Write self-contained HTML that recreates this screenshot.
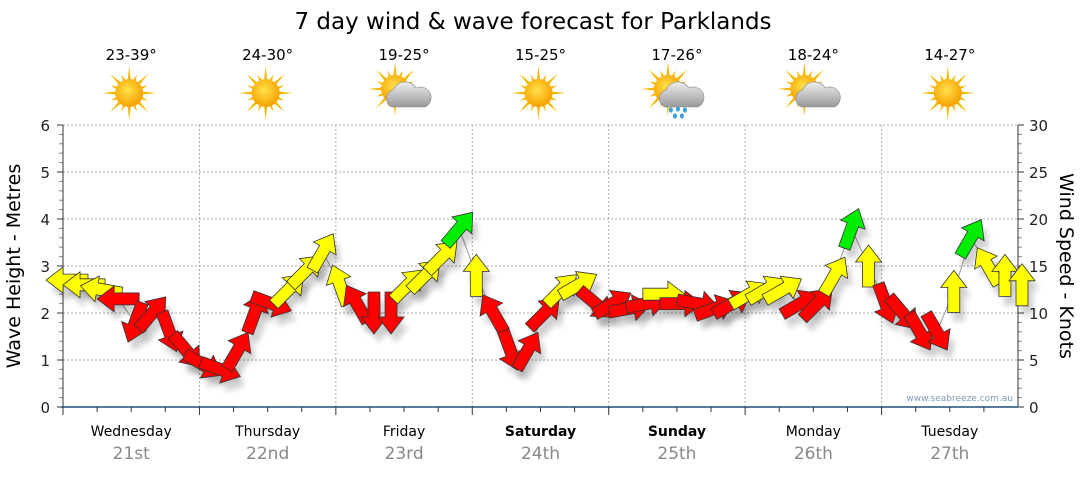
<!DOCTYPE html>
<html><head><meta charset="utf-8"><style>
body{margin:0;background:#fff;font-family:"DejaVu Sans","Liberation Sans",sans-serif;}
svg text{font-family:"DejaVu Sans","Liberation Sans",sans-serif;}
</style></head><body>
<svg id="chart" width="1080" height="475" viewBox="0 0 1080 475" xmlns="http://www.w3.org/2000/svg">
<defs>
<radialGradient id="sunG" cx="45%" cy="40%" r="60%"><stop offset="0" stop-color="#ffe14a"/><stop offset="1" stop-color="#f7a000"/></radialGradient>
<linearGradient id="cloudG" x1="0" y1="0" x2="0" y2="1"><stop offset="0" stop-color="#eee"/><stop offset="1" stop-color="#999"/></linearGradient>
<filter id="sh" x="-50%" y="-50%" width="200%" height="200%"><feGaussianBlur stdDeviation="3"/></filter>
</defs>
<text x="533" y="29" font-size="23" text-anchor="middle" fill="#000">7 day wind &amp; wave forecast for Parklands</text>
<g id="grid"></g>
<g id="icons"></g>
<g id="axes"></g>
<g id="marks"></g>
<text x="1013" y="401" font-size="9" text-anchor="end" fill="#7f9ab5">www.seabreeze.com.au</text>
<text transform="translate(20,266) rotate(-90)" font-size="19" text-anchor="middle" fill="#000">Wave Height - Metres</text>
<text transform="translate(1060,266) rotate(90)" font-size="19" text-anchor="middle" fill="#000">Wind Speed - Knots</text>
</svg>
<script>
const days=["Wednesday","Thursday","Friday","Saturday","Sunday","Monday","Tuesday"];
const dates=["21st","22nd","23rd","24th","25th","26th","27th"];
const temps=["23-39°","24-30°","19-25°","15-25°","17-26°","18-24°","14-27°"];
const weather=["sun","sun","cloud","sun","rain","cloud","sun"];
const waveTicks=[0,1,2,3,4,5,6];
const windTicks=[0,5,10,15,20,25,30];
// wind speed in knots every 3 hours
const windSpeed=[13.5,13,12.5,11.5,9,10,8,6, 4.5,4,6,10,11,12.5,14.5,16.5, 13,11,10,10,13,14,16,19, 14,10,6,6,10,12.5,13,11, 11,10.5,11,12,11,11,10.5,11, 12,12.5,12.5,11,11,14,19,15, 11,10,8,8,12.3,18,15,14,13];
// direction the arrow points (degrees clockwise from up)
const windDir=[270,270,280,270,200,40,160,140, 120,110,30,20,110,45,45,30, 340,330,180,180,45,45,45,40, 0,330,160,30,45,45,60,130, 60,80,80,90,90,100,70,60, 60,60,60,60,45,30,20,0, 160,140,150,150,0,30,330,0,0];

const NS="http://www.w3.org/2000/svg";
const X0=63,X1=1018,Y0=407,Y1=125;
const dayW=(X1-X0)/7;
const xT=i=>X0+i*(dayW/8)+4;
const yWave=v=>Y0-(v/6)*(Y0-Y1);
const yWind=v=>Y0-(v/30)*(Y0-Y1);
function mk(t,a,p){const e=document.createElementNS(NS,t);for(const k in a)e.setAttribute(k,a[k]);(p||document.getElementById('chart')).appendChild(e);return e;}
const grid=document.getElementById('grid'),axes=document.getElementById('axes'),marks=document.getElementById('marks'),icons=document.getElementById('icons');

waveTicks.forEach(v=>{
  if(v>0){const g=mk('line',{x1:X0,x2:X1,y1:yWave(v),y2:yWave(v),stroke:'#aaa','stroke-dasharray':'2,2'},grid);
  
  }
  const t=mk('text',{x:50,y:yWave(v)+6,'font-size':15,'text-anchor':'end',fill:'#222'},axes);t.textContent=v;
  
  
});
windTicks.forEach(v=>{
  const t=mk('text',{x:1029,y:yWind(v)+6,'font-size':15,fill:'#222'},axes);t.textContent=v;
  
  
});
for(let k=0;k<=30;k++){const y=yWind(k);const big=k%5==0;
  mk('line',{x1:X0-(big?6:4),x2:X0,y1:y,y2:y,stroke:big?'#333':'#888','stroke-width':1},axes);
  mk('line',{x1:X1,x2:X1+(big?6:4),y1:y,y2:y,stroke:big?'#333':'#888','stroke-width':1},axes);}
mk('line',{x1:X0,x2:X0,y1:Y1,y2:Y0,stroke:'#333'},axes);
mk('line',{x1:X1,x2:X1,y1:Y1,y2:Y0,stroke:'#333'},axes);
mk('line',{x1:X0-2,x2:X1,y1:Y0,y2:Y0,stroke:'#1f4e79','stroke-width':1.5},axes);
for(let d=0;d<7;d++){
  if(d>0){const g=mk('line',{x1:X0+d*dayW,x2:X0+d*dayW,y1:Y1,y2:Y0,stroke:'#aaa','stroke-dasharray':'2,2'},grid);
  
  }
  for(let q=0;q<4;q++){const x=X0+d*dayW+q*dayW/4;mk('line',{x1:x,x2:x,y1:Y0,y2:Y0+(q==0?8:5),stroke:'#333'},axes);}
  const cx=X0+(d+0.5)*dayW;
  const dl=mk('text',{x:cx,y:436,'font-size':14,'text-anchor':'middle',fill:'#000','font-weight':(d==3||d==4)?'bold':'normal'},axes);dl.textContent=days[d];
  
  
  const dt=mk('text',{x:cx,y:459,'font-size':17,'text-anchor':'middle',fill:'#888'},axes);dt.textContent=dates[d];
  
  
  const tt=mk('text',{x:cx,y:60,'font-size':15,'text-anchor':'middle',fill:'#000'},icons);tt.textContent=temps[d];
  
  
  const g=mk('g',{transform:`translate(${cx-2},93)`},icons);
  
  
  const sx=weather[d]=='sun'?0:-7, sy=weather[d]=='sun'?0:-4;
  for(let r=0;r<16;r++){const a=r*Math.PI/8,L=r%2?20:27;
    mk('polygon',{points:`${sx+Math.cos(a)*L},${sy+Math.sin(a)*L} ${sx+Math.cos(a+0.14)*12},${sy+Math.sin(a+0.14)*12} ${sx+Math.cos(a-0.14)*12},${sy+Math.sin(a-0.14)*12}`,fill:'#f5b800'},g);}
  mk('circle',{cx:sx,cy:sy,r:14,fill:'url(#sunG)'},g);
  if(weather[d]!='sun'){
    mk('path',{d:'M-10,14 a9,9 0 0 1 1,-17 a13,13 0 0 1 23,-2 a9,9 0 0 1 9,19 z',fill:'url(#cloudG)',stroke:'#888','stroke-width':0.6},g);
    if(weather[d]=='rain'){[[-4,17],[3,16],[10,17],[0,23],[7,23]].forEach(p=>mk('ellipse',{cx:p[0],cy:p[1],rx:2,ry:2.6,fill:'#3aa0e0'},g));}
  }
}

let pd='';windSpeed.forEach((v,i)=>{pd+=(i?'L':'M')+xT(i)+','+yWind(v);});
const ln=mk('path',{d:pd,fill:'none',stroke:'#999','stroke-width':1},marks);


const shp='0,-21 13,-4 6,-4 6,21 -6,21 -6,-4 -13,-4';
windSpeed.forEach((v,i)=>{
  const s=mk('polygon',{points:shp,transform:`translate(${xT(i)+5},${yWind(v)+9}) rotate(${windDir[i]})`,fill:'#000',opacity:0.18,filter:'url(#sh)'},marks);
  
  
});
windSpeed.forEach((v,i)=>{
  const col=v>=17?'#00ee00':(v>=12?'#ffff00':'#ff0000');
  const a=mk('polygon',{points:shp,transform:`translate(${xT(i)},${yWind(v)}) rotate(${windDir[i]})`,fill:col,stroke:'#333','stroke-width':0.8},marks);
  
  
});
</script>
</body></html>
